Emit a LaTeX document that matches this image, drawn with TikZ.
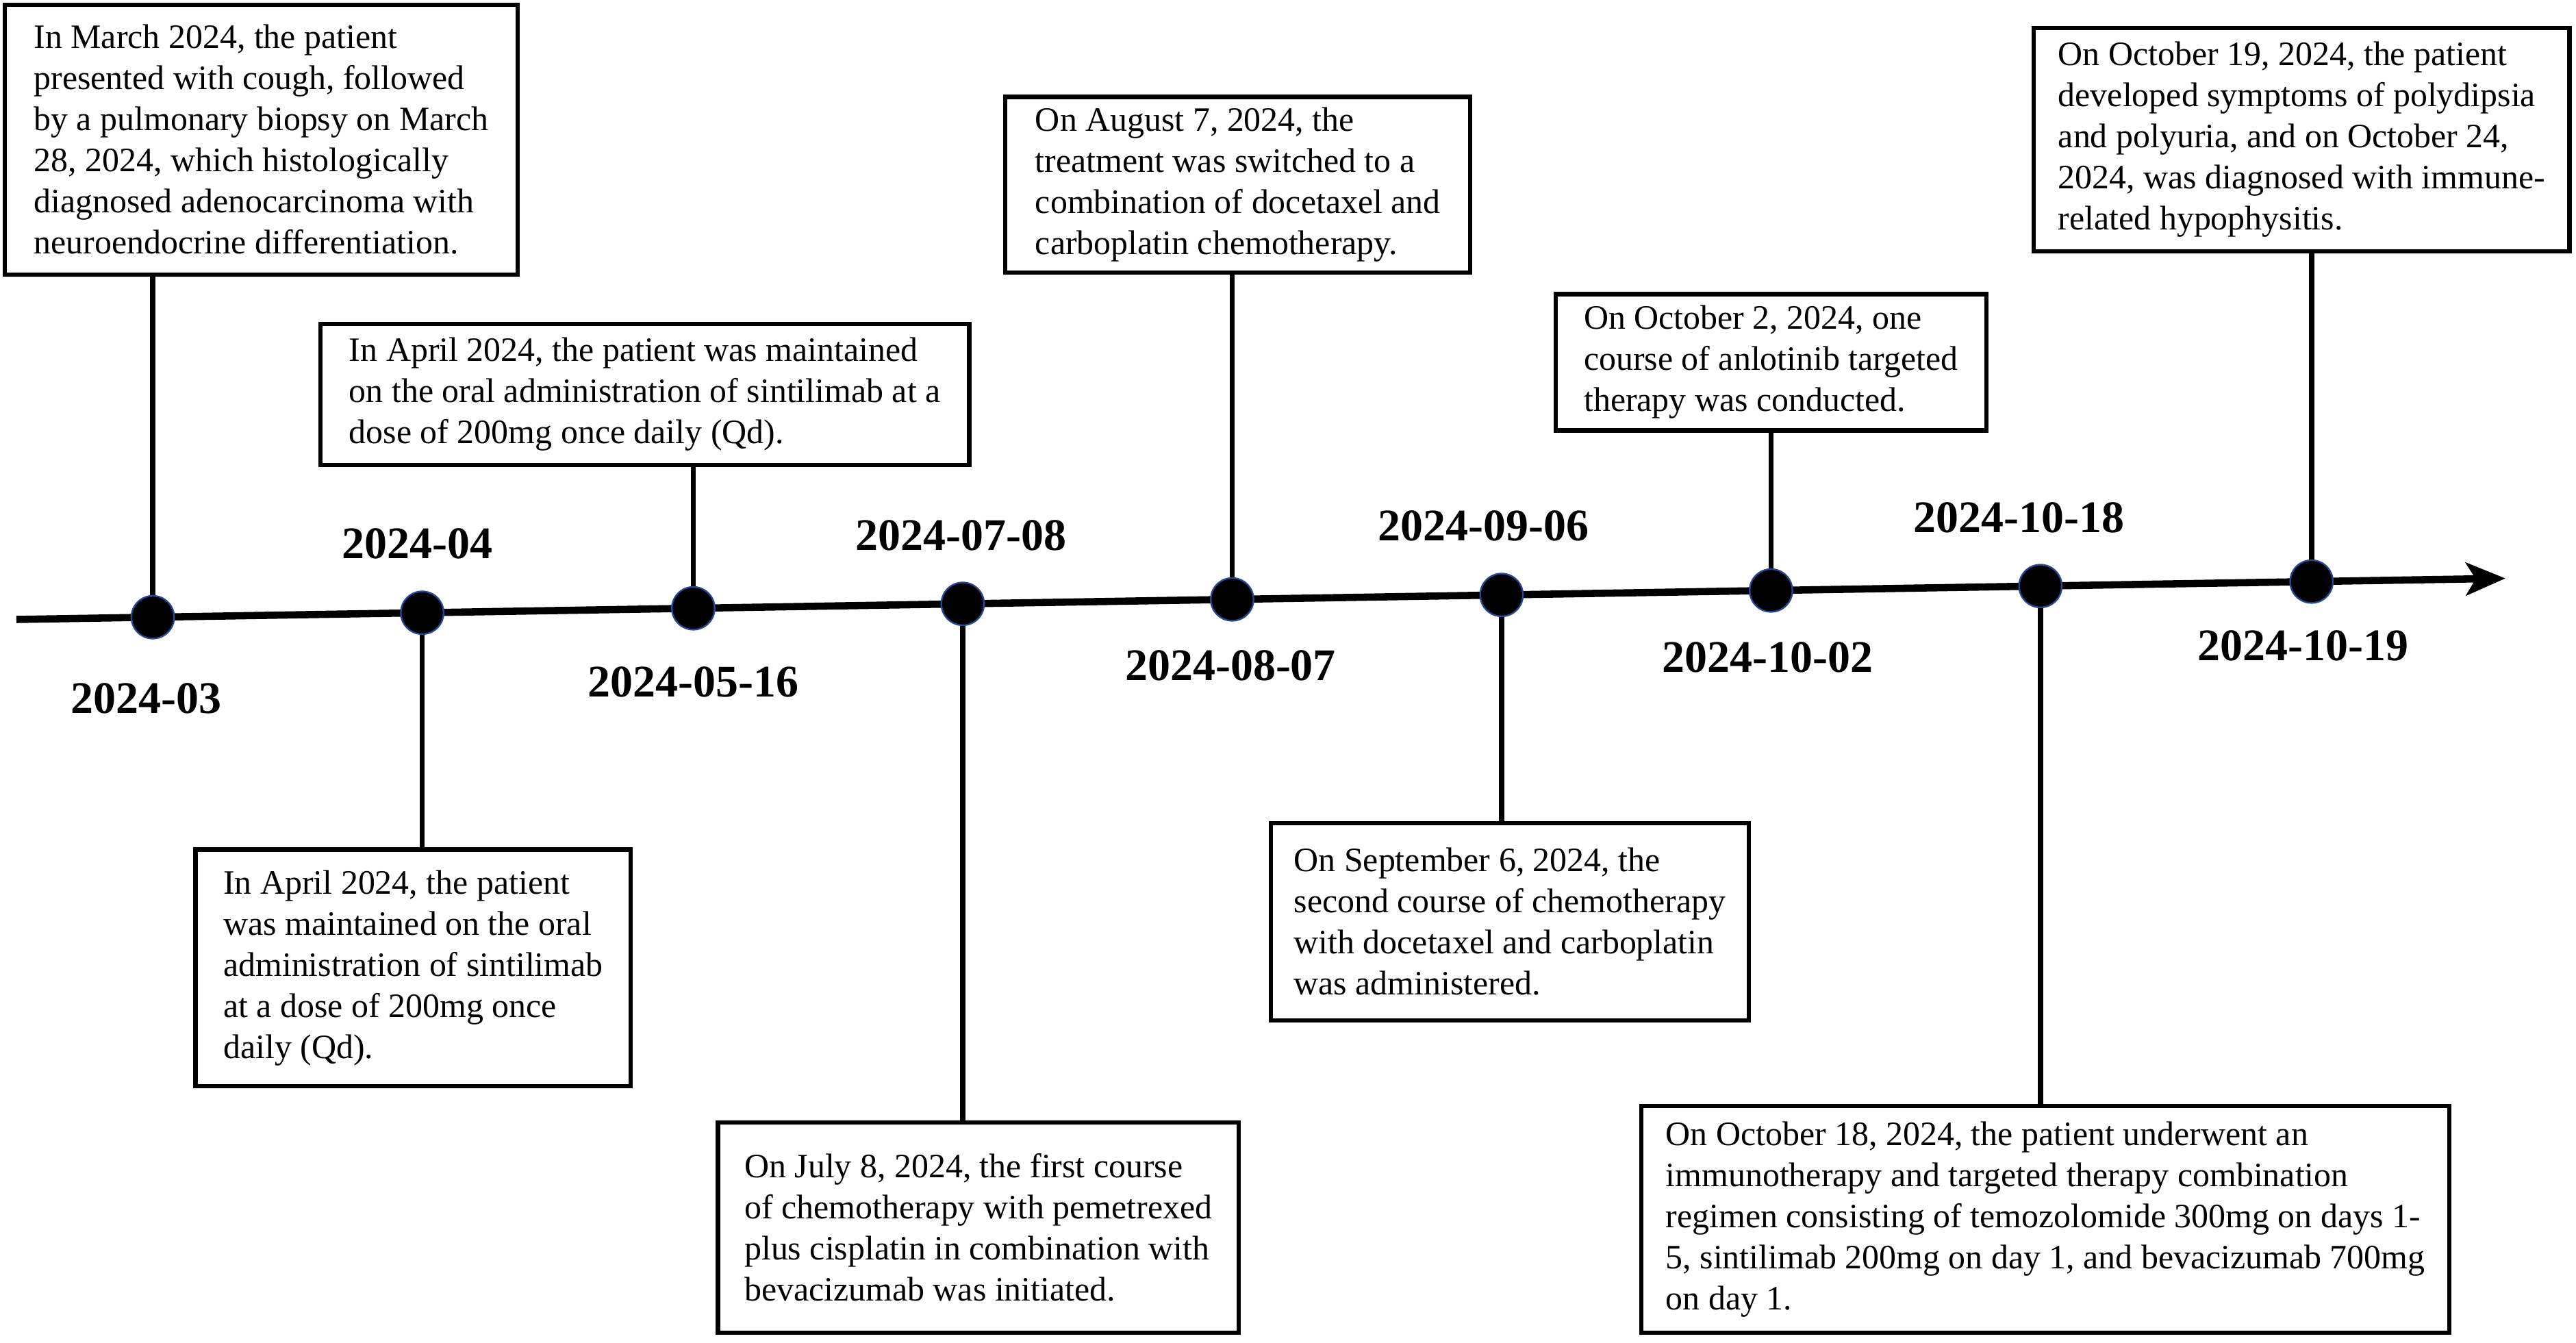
\documentclass[tikz,border=0pt]{standalone}
\usepackage{fontspec}
\setmainfont{Liberation Serif}
\usetikzlibrary{arrows.meta,positioning,calc}
\definecolor{dotrim}{RGB}{40,70,150}

\begin{document}
\begin{tikzpicture}[x=0.5pt, y=-0.5pt,
    evbox/.style={draw, line width=1.3pt, align=left,
        inner xsep=7pt, inner ysep=3pt,
        font=\fontsize{10.4}{12.5}\selectfont},
    datelbl/.style={font=\fontsize{13.75}{16}\selectfont\bfseries},
    tdot/.style={circle, minimum size=13pt, inner sep=0pt,
        fill=black, draw=dotrim, line width=0.5pt},
    conn/.style={line width=1.6pt}]

        \useasboundingbox (0,0) rectangle (1568,817);

        % Time axis
        \coordinate (tl-start) at (10,377);
        \coordinate (tl-end) at (1525,352);
        \draw[line width=2.2pt, -{Stealth[length=12pt, width=10pt, inset=3pt]}] (tl-start) -- (tl-end);

        % Milestones
        \foreach \x [count=\i] in {93,257,422,586,750,914,1078,1242,1407}
        {
            \node[tdot] (d\i) at (\x,{377-(\x-10)/1515*25}) {};
        }

        % Dates
        \foreach \lx/\ly/\txt [count=\i] in {89/425/2024-03, 254/331/2024-04, 422/415/2024-05-16,
            585/326/2024-07-08, 749/405/2024-08-07, 903/320/2024-09-06,
            1076/400/2024-10-02, 1229/315/2024-10-18, 1402/393/2024-10-19}
        {
            \node[datelbl] (lbl\i) at (\lx,\ly) {\txt};
        }

        % Event boxes
        \node[evbox, minimum width=156pt, minimum height=82pt] (ev1) at (159,85)
            {In March 2024, the patient\\presented with cough, followed\\by a pulmonary biopsy on March\\28, 2024, which histologically\\diagnosed adenocarcinoma with\\neuroendocrine differentiation.};
        \node[evbox, minimum width=132.5pt, minimum height=72pt] (ev2) at (251.5,589)
            {In April 2024, the patient\\was maintained on the oral\\administration of sintilimab\\at a dose of 200mg once\\daily (Qd).};
        \node[evbox, minimum width=197.5pt, minimum height=43pt] (ev3) at (392.5,240)
            {In April 2024, the patient was maintained\\on the oral administration of sintilimab at a\\dose of 200mg once daily (Qd).};
        \node[evbox, minimum width=158.5pt, minimum height=64pt] (ev4) at (595.5,747)
            {On July 8, 2024, the first course\\of chemotherapy with pemetrexed\\plus cisplatin in combination with\\bevacizumab was initiated.};
        \node[evbox, minimum width=141.5pt, minimum height=53.5pt] (ev5) at (753.5,112.5)
            {On August 7, 2024, the\\treatment was switched to a\\combination of docetaxel and\\carboplatin chemotherapy.};
        \node[evbox, minimum width=145pt, minimum height=60pt] (ev6) at (919,561)
            {On September 6, 2024, the\\second course of chemotherapy\\with docetaxel and carboplatin\\was administered.};
        \node[evbox, minimum width=131pt, minimum height=41.5pt] (ev7) at (1078,220.5)
            {On October 2, 2024, one\\course of anlotinib targeted\\therapy was conducted.};
        \node[evbox, minimum width=246pt, minimum height=69pt] (ev8) at (1245,742)
            {On October 18, 2024, the patient underwent an\\immunotherapy and targeted therapy combination\\regimen consisting of temozolomide 300mg on days 1-\\5, sintilimab 200mg on day 1, and bevacizumab 700mg\\on day 1.};
        \node[evbox, minimum width=163pt, minimum height=68pt] (ev9) at (1401,85)
            {On October 19, 2024, the patient\\developed symptoms of polydipsia\\and polyuria, and on October 24,\\2024, was diagnosed with immune-\\related hypophysitis.};

        % Connect milestones to boxes above
        \foreach \i in {1,3,5,7,9}
        {
            \draw[conn] (d\i) -- (d\i |- ev\i.south);
        }

        % Connect milestones to boxes below
        \foreach \i in {2,4,6,8}
        {
            \draw[conn] (d\i) -- (d\i |- ev\i.north);
        }

\end{tikzpicture}
\end{document}
